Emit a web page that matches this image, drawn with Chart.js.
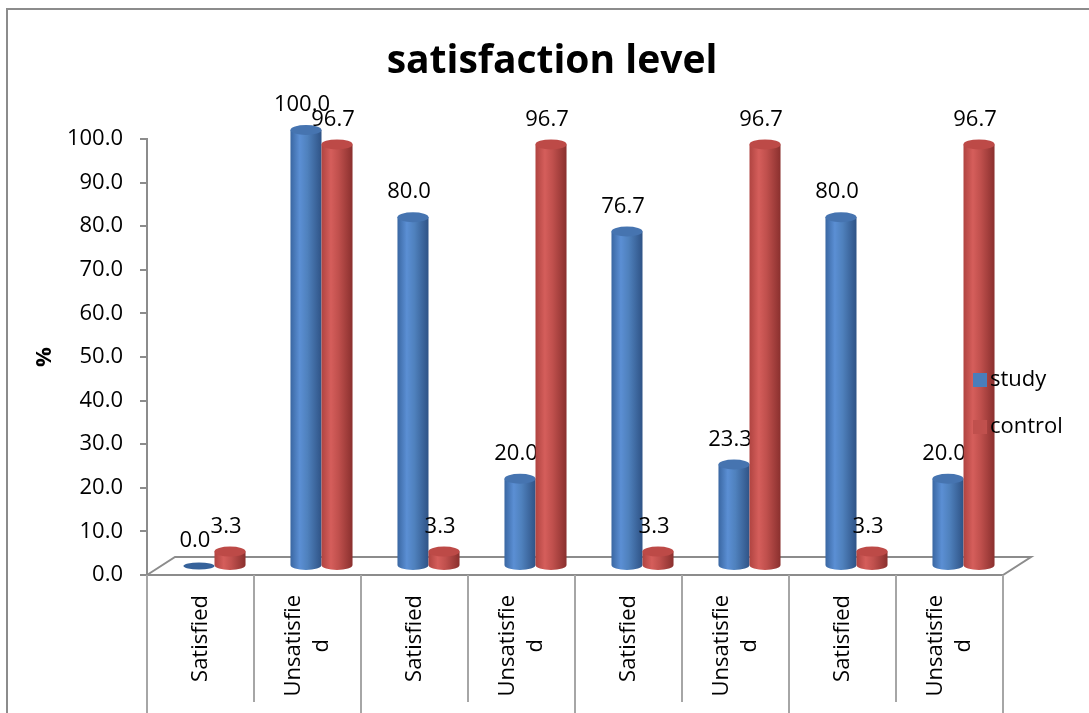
<!DOCTYPE html>
<html>
<head>
<meta charset="utf-8">
<script src="https://cdn.jsdelivr.net/npm/chart.js@4.4.1/dist/chart.umd.min.js"></script>
<style>
  html, body { margin: 0; padding: 0; background: #fff; }
  #wrap { width: 1089px; height: 713px; }
</style>
</head>
<body>
<div id="wrap"><canvas id="chart" width="1089" height="713"></canvas></div>
<script>
// data
const chartTitle = 'satisfaction level';
const categories = [
    ['Satisfied'], ['Unsatisfie', 'd'],
    ['Satisfied'], ['Unsatisfie', 'd'],
    ['Satisfied'], ['Unsatisfie', 'd'],
    ['Satisfied'], ['Unsatisfie', 'd']
];
const study = [0.0, 100.0, 80.0, 20.0, 76.7, 23.3, 80.0, 20.0];
const control = [3.3, 96.7, 3.3, 96.7, 3.3, 96.7, 3.3, 96.7];
const seriesNames = ['study', 'control'];
const yMin = 0, yMax = 100, yStep = 10;

const FONT = "'Open Sans', sans-serif";
const GRAY = '#8c8c8c';
// 3d depth of the floor, bars sit half way back
const DEPTH_X = 28, DEPTH_Y = -18;

const shades = {
    study: { stops: ['#3a67a2', '#5b8fd4', '#4f81bd', '#2f5386'], top: '#4674b0', flat: '#36629a', key: '#4a7ebb' },
    control: { stops: ['#b04441', '#d55e5b', '#c0504d', '#8a302e'], top: '#bd4a47', flat: '#a8403d', key: '#c0504d' }
};

Chart.defaults.font.family = FONT;
Chart.defaults.color = '#000';

const cylinders = {
    id: 'cylinders',
    beforeDraw(chart) {
        const ctx = chart.ctx;
        ctx.save();
        ctx.strokeStyle = GRAY;
        ctx.lineWidth = 2;
        ctx.strokeRect(7, 9, 1100, 720);
        // title sits off centre in the source, so it is drawn here
        ctx.fillStyle = '#000';
        ctx.font = 'bold 39px ' + FONT;
        ctx.textAlign = 'center';
        ctx.textBaseline = 'middle';
        ctx.fillText(chartTitle, 552, 62);
        ctx.restore();
    },
    beforeDatasetsDraw(chart) {
        const ctx = chart.ctx;
        const a = chart.chartArea;
        const x = chart.scales.x;
        const step = (a.right - a.left) / categories.length;
        ctx.save();
        ctx.strokeStyle = GRAY;
        ctx.lineWidth = 2;
        // floor
        ctx.beginPath();
        ctx.moveTo(a.left, a.bottom);
        ctx.lineTo(a.left + DEPTH_X, a.bottom + DEPTH_Y);
        ctx.lineTo(a.right + DEPTH_X, a.bottom + DEPTH_Y);
        ctx.lineTo(a.right, a.bottom);
        ctx.lineTo(a.left, a.bottom);
        ctx.stroke();
        // category table lines
        ctx.strokeStyle = '#a6a6a6';
        for (let i = 0; i <= categories.length; i++) {
            const px = Math.round(a.left + i * step);
            ctx.beginPath();
            ctx.moveTo(px, a.bottom);
            ctx.lineTo(px, i % 2 === 0 ? chart.height : a.bottom + 127);
            ctx.stroke();
        }
        // category labels
        ctx.fillStyle = '#000';
        ctx.font = '22px ' + FONT;
        ctx.textBaseline = 'middle';
        ctx.textAlign = 'center';
        const lh = 28;
        categories.forEach((lines, i) => {
            const cx = x.getPixelForValue(i);
            const w = Math.max(...lines.map(l => ctx.measureText(l).width));
            ctx.save();
            ctx.translate(cx, a.bottom + 20);
            ctx.rotate(-Math.PI / 2);
            lines.forEach((l, k) => {
                ctx.fillText(l, -w / 2, (k - (lines.length - 1) / 2) * lh);
            });
            ctx.restore();
        });
        ctx.restore();
    },
    afterDatasetsDraw(chart) {
        const ctx = chart.ctx;
        chart.data.datasets.forEach((ds, di) => {
            const sh = shades[ds.label];
            const meta = chart.getDatasetMeta(di);
            meta.data.forEach((el, i) => {
                const w = el.width;
                const cx = el.x + DEPTH_X / 2;
                const top = el.y + DEPTH_Y / 2;
                const bot = el.base + DEPTH_Y / 2;
                const rx = w / 2, ry = 5;
                const l = cx - rx, r = cx + rx;
                ctx.save();
                if (bot - top < 0.5) {
                    ctx.fillStyle = sh.flat;
                    ctx.beginPath();
                    ctx.ellipse(cx, bot, rx, ry - 1.5, 0, 0, Math.PI * 2);
                    ctx.fill();
                } else {
                    const g = ctx.createLinearGradient(l, 0, r, 0);
                    g.addColorStop(0, sh.stops[0]);
                    g.addColorStop(0.3, sh.stops[1]);
                    g.addColorStop(0.55, sh.stops[2]);
                    g.addColorStop(1, sh.stops[3]);
                    ctx.fillStyle = g;
                    ctx.beginPath();
                    ctx.moveTo(l, top);
                    ctx.lineTo(l, bot);
                    ctx.ellipse(cx, bot, rx, ry, 0, Math.PI, 0, true);
                    ctx.lineTo(r, top);
                    ctx.closePath();
                    ctx.fill();
                    ctx.fillStyle = sh.top;
                    ctx.beginPath();
                    ctx.ellipse(cx, top, rx, ry, 0, 0, Math.PI * 2);
                    ctx.fill();
                }
                // value label
                ctx.fillStyle = '#000';
                ctx.font = '22px ' + FONT;
                ctx.textAlign = 'center';
                ctx.textBaseline = 'middle';
                ctx.fillText(ds.data[i].toFixed(1), cx - 4, top - 25);
                ctx.restore();
            });
        });
    },
    afterDraw(chart) {
        // legend on the right, drawn over the last bar like in the source
        const ctx = chart.ctx;
        ctx.save();
        ctx.font = '22px ' + FONT;
        ctx.textBaseline = 'middle';
        ctx.textAlign = 'left';
        seriesNames.forEach((name, k) => {
            const y = 380 + k * 47;
            ctx.fillStyle = shades[name].key;
            ctx.fillRect(973, y - 7, 14, 14);
            ctx.fillStyle = '#000';
            ctx.fillText(name, 990, y);
        });
        ctx.restore();
    }
};

const ctx = document.getElementById('chart').getContext('2d');
const chart = new Chart(ctx, {
    type: 'bar',
    data: {
        labels: categories,
        datasets: [
            { label: seriesNames[0], data: study, backgroundColor: 'rgba(0,0,0,0)' },
            { label: seriesNames[1], data: control, backgroundColor: 'rgba(0,0,0,0)' }
        ]
    },
    options: {
        responsive: false,
        animation: false,
        devicePixelRatio: 1,
        layout: {
            padding: { left: 28, right: 86, top: 139, bottom: 138 }
        },
        datasets: {
            bar: { barPercentage: 1, categoryPercentage: 0.58 }
        },
        plugins: {
            legend: { display: false },
            tooltip: { enabled: false },
            title: { display: false }
        },
        scales: {
            x: {
                display: false
            },
            y: {
                min: yMin,
                max: yMax,
                afterFit: (scale) => { scale.width = 119; },
                ticks: {
                    stepSize: yStep,
                    padding: 17,
                    color: '#000',
                    font: { size: 22 },
                    callback: (v) => Number(v).toFixed(1)
                },
                grid: {
                    drawOnChartArea: false,
                    drawTicks: true,
                    tickLength: 7,
                    color: GRAY,
                    lineWidth: 2
                },
                border: { color: GRAY, width: 2 },
                title: {
                    display: true,
                    text: '%',
                    color: '#000',
                    font: { size: 22, weight: 'bold' }
                }
            }
        }
    },
    plugins: [cylinders]
});
</script>
</body>
</html>
